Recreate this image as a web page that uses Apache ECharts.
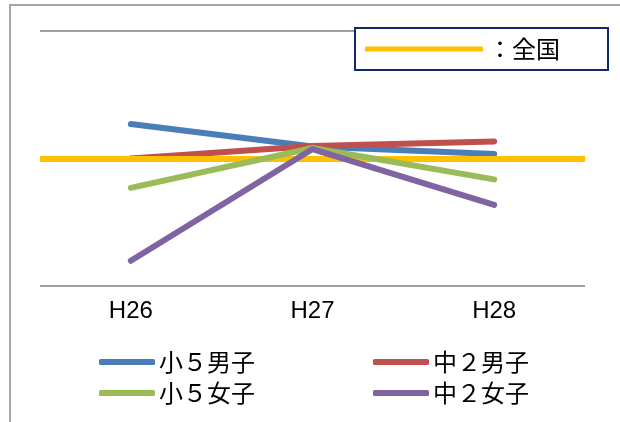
<!DOCTYPE html>
<html>
<head>
<meta charset="utf-8">
<script src="https://cdn.jsdelivr.net/npm/echarts@6/dist/echarts.min.js"></script>
<style>
html,body{margin:0;padding:0;background:#fff;}
#main{width:620px;height:422px;}
</style>
</head>
<body>
<div id="main"></div>
<script>
// ---- data ----
const categories = ['H26', 'H27', 'H28'];
const seriesNames = ['小５男子', '中２男子', '小５女子', '中２女子'];
const s5Boys  = [101.35, 100.47, 100.18];
const c2Boys  = [100.0, 100.49, 100.67];
const s5Girls = [98.85, 100.41, 99.18];
const c2Girls = [95.99, 100.37, 98.18];
const nationalName = '全国';
const nationalValue = 100;
const yTicks = { min: 95, max: 105, interval: 5 };

const colors = ['#4a7ebb', '#c0504d', '#9bbb59', '#8064a2'];
const values = [s5Boys, c2Boys, s5Girls, c2Girls];
const cjk = '"Noto Sans CJK JP", "Noto Sans", sans-serif';

const chart = echarts.init(document.getElementById('main'));

const legendPos = [
  { left: 99, top: 350 },
  { left: 373, top: 350 },
  { left: 99, top: 381 },
  { left: 373, top: 381 }
];

const legends = seriesNames.map((n, i) => ({
  data: [n],
  left: legendPos[i].left,
  top: legendPos[i].top,
  padding: 0,
  icon: 'roundRect',
  itemWidth: 56,
  itemHeight: 6,
  itemGap: 0,
  selectedMode: false,
  textStyle: { fontSize: 24, color: '#000', fontFamily: cjk, padding: [0, 0, 0, -1] }
}));

legends.push({
  data: [nationalName],
  left: 355,
  top: 28,
  padding: [9, 48, 9, 10],
  icon: 'rect',
  itemWidth: 118,
  itemHeight: 5,
  selectedMode: false,
  backgroundColor: '#fff',
  borderColor: '#10296a',
  borderWidth: 2,
  borderRadius: 0,
  formatter: '：{name}',
  textStyle: { fontSize: 24, color: '#000', fontFamily: cjk }
});

const lineSeries = seriesNames.map((n, i) => ({
  name: n,
  type: 'line',
  data: values[i],
  symbol: 'none',
  color: colors[i],
  lineStyle: { width: 6, color: colors[i], cap: 'round', join: 'round' },
  z: 3 + i
}));

lineSeries.push({
  name: nationalName,
  type: 'line',
  data: [],
  symbol: 'none',
  color: '#ffc000',
  z: 10,
  markLine: {
    silent: true,
    symbol: 'none',
    label: { show: false },
    lineStyle: { color: '#ffc000', width: 6, type: 'solid' },
    emphasis: { disabled: true },
    data: [{ yAxis: nationalValue }]
  }
});

chart.setOption({
  animation: false,
  backgroundColor: '#fff',
  graphic: [{
    type: 'rect',
    shape: { x: 10, y: 5, width: 640, height: 440 },
    style: { fill: 'none', stroke: '#a6a6a6', lineWidth: 2 },
    z: -10
  }],
  grid: { left: 40, right: 35, top: 31, bottom: 136, containLabel: false },
  legend: legends,
  xAxis: {
    type: 'category',
    data: categories,
    boundaryGap: true,
    axisLine: { show: false },
    axisTick: { show: false },
    axisLabel: {
      margin: 13,
      fontSize: 24,
      color: '#000',
      fontFamily: '"Liberation Sans", Arial, sans-serif'
    }
  },
  yAxis: {
    type: 'value',
    min: yTicks.min,
    max: yTicks.max,
    interval: yTicks.interval,
    axisLine: { show: false },
    axisTick: { show: false },
    axisLabel: { show: false },
    splitLine: { lineStyle: { color: '#a0a0a0', width: 2 } }
  },
  series: lineSeries
});
</script>
</body>
</html>
